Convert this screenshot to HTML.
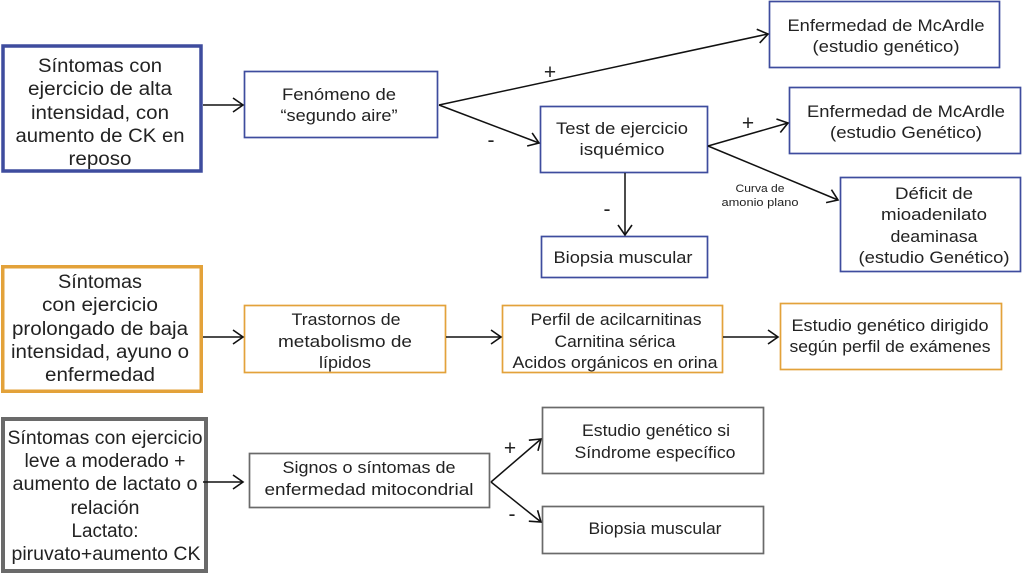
<!DOCTYPE html>
<html><head><meta charset="utf-8"><style>
html,body{margin:0;padding:0;background:#fff;}
svg{display:block;}
text{font-family:"Liberation Sans",sans-serif;fill:#222;}
</style></head><body>
<svg width="1024" height="575" viewBox="0 0 1024 575" xmlns="http://www.w3.org/2000/svg">
<defs>
<marker id="a" markerUnits="userSpaceOnUse" markerWidth="24" markerHeight="24" viewBox="-12 -12 24 24" refX="0" refY="0" orient="auto">
<path d="M-10,-7 L0,0 L-10,7" fill="none" stroke="#111" stroke-width="1.6"/>
</marker>
</defs>
<rect width="1024" height="575" fill="#fff"/>

<!-- boxes -->
<g fill="none">
<rect x="3" y="46" width="198" height="125" stroke="#3e4c9e" stroke-width="3.5"/>
<rect x="244.5" y="71.5" width="193" height="66" stroke="#3e4c9e" stroke-width="1.7"/>
<rect x="769.5" y="1.5" width="230" height="66" stroke="#3e4c9e" stroke-width="1.7"/>
<rect x="540.5" y="106.5" width="167" height="66" stroke="#3e4c9e" stroke-width="1.7"/>
<rect x="789.5" y="87.5" width="231" height="66" stroke="#3e4c9e" stroke-width="1.7"/>
<rect x="840.5" y="177.5" width="180" height="94" stroke="#3e4c9e" stroke-width="1.7"/>
<rect x="541.5" y="236.5" width="166" height="41" stroke="#3e4c9e" stroke-width="1.7"/>

<rect x="2.75" y="266.75" width="198.5" height="124.5" stroke="#e3a23a" stroke-width="3.5"/>
<rect x="244.5" y="305.5" width="201" height="67" stroke="#e3a23a" stroke-width="1.7"/>
<rect x="502.5" y="305.5" width="220" height="67" stroke="#e3a23a" stroke-width="1.7"/>
<rect x="780.5" y="303.5" width="221" height="66" stroke="#e3a23a" stroke-width="1.7"/>

<rect x="3" y="419" width="203" height="152" stroke="#6a6a6a" stroke-width="4"/>
<rect x="249.5" y="453.5" width="240" height="54" stroke="#6a6a6a" stroke-width="1.7"/>
<rect x="542.5" y="407.5" width="221" height="66" stroke="#6a6a6a" stroke-width="1.7"/>
<rect x="542.5" y="506.5" width="221" height="47" stroke="#6a6a6a" stroke-width="1.7"/>
</g>

<!-- connectors -->
<g stroke="#111" stroke-width="1.5" fill="none" marker-end="url(#a)">
<line x1="203" y1="105" x2="243" y2="105"/>
<line x1="439" y1="105" x2="768" y2="34"/>
<line x1="439" y1="105" x2="539" y2="143"/>
<line x1="708" y1="146" x2="788" y2="123"/>
<line x1="708" y1="146" x2="838" y2="200"/>
<line x1="625" y1="173" x2="625" y2="235"/>
<line x1="203" y1="337" x2="243" y2="337"/>
<line x1="446" y1="337" x2="501" y2="337"/>
<line x1="723" y1="337" x2="778" y2="337"/>
<line x1="203" y1="482" x2="243" y2="482"/>
<line x1="491" y1="482" x2="541" y2="439"/>
<line x1="491" y1="482" x2="541" y2="522"/>
</g>

<!-- signs -->
<g font-size="21" text-anchor="middle">
<text x="550" y="79">+</text>
<text x="491" y="147">-</text>
<text x="748" y="130">+</text>
<text x="607" y="216">-</text>
<text x="510" y="455">+</text>
<text x="512" y="521">-</text>
</g>

<!-- box 1 -->
<g font-size="19" text-anchor="middle">
<text x="100" y="72" textLength="124" lengthAdjust="spacingAndGlyphs">Síntomas con</text>
<text x="100" y="95" textLength="144" lengthAdjust="spacingAndGlyphs">ejercicio de alta</text>
<text x="100" y="119" textLength="138" lengthAdjust="spacingAndGlyphs">intensidad, con</text>
<text x="100" y="142" textLength="169" lengthAdjust="spacingAndGlyphs">aumento de CK en</text>
<text x="100" y="165" textLength="63" lengthAdjust="spacingAndGlyphs">reposo</text>
</g>

<g font-size="17" text-anchor="middle">
<text x="339" y="100" textLength="114" lengthAdjust="spacingAndGlyphs">Fenómeno de</text>
<text x="339" y="121" textLength="117" lengthAdjust="spacingAndGlyphs">“segundo aire”</text>

<text x="886" y="31" textLength="197" lengthAdjust="spacingAndGlyphs">Enfermedad de McArdle</text>
<text x="886" y="52" textLength="147" lengthAdjust="spacingAndGlyphs">(estudio genético)</text>

<text x="622" y="134" textLength="132" lengthAdjust="spacingAndGlyphs">Test de ejercicio</text>
<text x="622" y="155" textLength="85" lengthAdjust="spacingAndGlyphs">isquémico</text>

<text x="906" y="117" textLength="198" lengthAdjust="spacingAndGlyphs">Enfermedad de McArdle</text>
<text x="906" y="138" textLength="152" lengthAdjust="spacingAndGlyphs">(estudio Genético)</text>

<text x="934" y="199" textLength="78" lengthAdjust="spacingAndGlyphs">Déficit de</text>
<text x="934" y="220" textLength="106" lengthAdjust="spacingAndGlyphs">mioadenilato</text>
<text x="934" y="242" textLength="87" lengthAdjust="spacingAndGlyphs">deaminasa</text>
<text x="934" y="263" textLength="151" lengthAdjust="spacingAndGlyphs">(estudio Genético)</text>

<text x="623" y="263" textLength="139" lengthAdjust="spacingAndGlyphs">Biopsia muscular</text>

<text x="346" y="325" textLength="109" lengthAdjust="spacingAndGlyphs">Trastornos de</text>
<text x="345" y="347" textLength="134" lengthAdjust="spacingAndGlyphs">metabolismo de</text>
<text x="345" y="368" textLength="52" lengthAdjust="spacingAndGlyphs">lípidos</text>

<text x="616" y="325" textLength="171" lengthAdjust="spacingAndGlyphs">Perfil de acilcarnitinas</text>
<text x="615" y="347" textLength="121" lengthAdjust="spacingAndGlyphs">Carnitina sérica</text>
<text x="615" y="368" textLength="205" lengthAdjust="spacingAndGlyphs">Acidos orgánicos en orina</text>

<text x="890" y="331" textLength="197" lengthAdjust="spacingAndGlyphs">Estudio genético dirigido</text>
<text x="890" y="352" textLength="201" lengthAdjust="spacingAndGlyphs">según perfil de exámenes</text>

<text x="369" y="473" textLength="173" lengthAdjust="spacingAndGlyphs">Signos o síntomas de</text>
<text x="369" y="495" textLength="209" lengthAdjust="spacingAndGlyphs">enfermedad mitocondrial</text>

<text x="656" y="436" textLength="148" lengthAdjust="spacingAndGlyphs">Estudio genético si</text>
<text x="655" y="458" textLength="161" lengthAdjust="spacingAndGlyphs">Síndrome específico</text>

<text x="655" y="534" textLength="133" lengthAdjust="spacingAndGlyphs">Biopsia muscular</text>
</g>

<g font-size="11" text-anchor="middle">
<text x="760" y="192" textLength="49" lengthAdjust="spacingAndGlyphs">Curva de</text>
<text x="760" y="206" textLength="77" lengthAdjust="spacingAndGlyphs">amonio plano</text>
</g>

<!-- orange box text -->
<g font-size="19" text-anchor="middle">
<text x="100" y="288" textLength="84" lengthAdjust="spacingAndGlyphs">Síntomas</text>
<text x="100" y="311" textLength="116" lengthAdjust="spacingAndGlyphs">con ejercicio</text>
<text x="100" y="335" textLength="176" lengthAdjust="spacingAndGlyphs">prolongado de baja</text>
<text x="100" y="358" textLength="178" lengthAdjust="spacingAndGlyphs">intensidad, ayuno o</text>
<text x="100" y="381" textLength="110" lengthAdjust="spacingAndGlyphs">enfermedad</text>
</g>

<!-- gray box text -->
<g font-size="19" text-anchor="middle">
<text x="105" y="444" textLength="195" lengthAdjust="spacingAndGlyphs">Síntomas con ejercicio</text>
<text x="105" y="467" textLength="161" lengthAdjust="spacingAndGlyphs">leve a moderado +</text>
<text x="105" y="490" textLength="185" lengthAdjust="spacingAndGlyphs">aumento de lactato o</text>
<text x="105" y="514" textLength="69" lengthAdjust="spacingAndGlyphs">relación</text>
<text x="105" y="537" textLength="67" lengthAdjust="spacingAndGlyphs">Lactato:</text>
<text x="106" y="560" textLength="189" lengthAdjust="spacingAndGlyphs">piruvato+aumento CK</text>
</g>
</svg>
</body></html>
